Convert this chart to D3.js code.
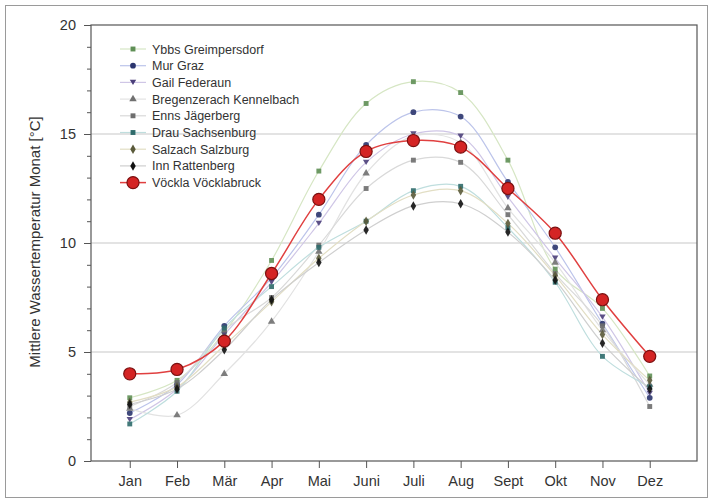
<!DOCTYPE html>
<html><head><meta charset="utf-8">
<script src="https://cdn.jsdelivr.net/npm/d3@7"></script>
<style>body{margin:0;background:#fff;}svg{display:block;font-family:"Liberation Sans",Arial,sans-serif;}</style>
</head><body><svg id="c" width="712" height="503"></svg>
<script>
const months = ["Jan","Feb","Mär","Apr","Mai","Juni","Juli","Aug","Sept","Okt","Nov","Dez"];
const yTicks = [0,5,10,15,20];
const seriesNames = ["Ybbs Greimpersdorf","Mur Graz","Gail Federaun","Bregenzerach Kennelbach","Enns Jägerberg","Drau Sachsenburg","Salzach Salzburg","Inn Rattenberg","Vöckla Vöcklabruck"];
const ybbs    = [2.9,3.7,5.9,9.2,13.3,16.4,17.4,16.9,13.8,8.8,7.0,3.9];
const mur     = [2.2,3.5,6.2,8.4,11.3,14.5,16.0,15.8,12.8,9.8,6.3,2.9];
const gail    = [1.9,3.3,5.8,8.2,10.9,13.7,15.0,14.9,12.1,9.3,6.6,3.1];
const bregenz = [2.4,2.1,4.0,6.4,9.6,13.2,14.9,14.6,11.6,9.1,6.0,3.5];
const enns    = [2.5,3.6,6.0,7.5,9.9,12.5,13.8,13.7,11.3,8.6,6.2,2.5];
const drau    = [1.7,3.2,6.1,8.0,9.8,11.0,12.4,12.6,10.7,8.2,4.8,3.4];
const salzach = [2.7,3.4,5.3,7.3,9.3,11.0,12.2,12.4,10.9,8.5,5.8,3.7];
const inn     = [2.6,3.3,5.1,7.4,9.1,10.6,11.7,11.8,10.5,8.3,5.4,3.3];
const voeckla = [4.0,4.2,5.5,8.6,12.0,14.2,14.7,14.4,12.5,10.45,7.4,4.8];
const allValues = [ybbs,mur,gail,bregenz,enns,drau,salzach,inn,voeckla];

const styles = [
  {line:"#d6e6c4", fill:"#5f8f55", sym:d3.symbolSquare, size:24},
  {line:"#bcc4ea", fill:"#2b356e", sym:d3.symbolCircle, size:26},
  {line:"#cfc6e6", fill:"#4b3f7a", sym:"down", size:26},
  {line:"#e2e2e2", fill:"#707070", sym:d3.symbolTriangle, size:24},
  {line:"#d9d9d9", fill:"#6e6e6e", sym:d3.symbolSquare, size:24},
  {line:"#bfdede", fill:"#2f6b6b", sym:d3.symbolSquare, size:24},
  {line:"#e2dec4", fill:"#5a5a3a", sym:d3.symbolDiamond, size:26},
  {line:"#cfcfcf", fill:"#111111", sym:d3.symbolDiamond, size:26},
  {line:"#e04040", fill:"#d42424", sym:d3.symbolCircle, size:115, stroke:"#7a1010"}
];

const svg = d3.select("#c");
svg.append("rect").attr("x",5.5).attr("y",5.5).attr("width",702).attr("height",492)
  .attr("fill","none").attr("stroke","#9a9a9a").attr("stroke-width",1);

const L=91, R=697, T=25, B=461;
const x = d3.scaleLinear().domain([-0.82,12]).range([L,R]);
const y = d3.scaleLinear().domain([0,20]).range([B,T]);

svg.append("g").selectAll("line").data([5,10,15]).join("line")
  .attr("x1",L).attr("x2",R).attr("y1",d=>y(d)).attr("y2",d=>y(d))
  .attr("stroke","#e3e3e3").attr("stroke-width",2);

svg.append("rect").attr("x",L).attr("y",T).attr("width",R-L).attr("height",B-T)
  .attr("fill","none").attr("stroke","#555").attr("stroke-width",1.2);

const yAxis = d3.axisLeft(y).tickValues(yTicks).tickSize(7).tickPadding(8);
const gy = svg.append("g").attr("transform",`translate(${L},0)`).call(yAxis);
gy.select(".domain").remove();
gy.selectAll("text").attr("font-size",14.5).attr("fill","#333").attr("font-family","Liberation Sans, Arial");
gy.selectAll("line").attr("stroke","#555");
const yMinor = d3.axisLeft(y).tickValues(d3.range(0,21).filter(v=>v%5!==0)).tickSize(4).tickFormat("");
const gym = svg.append("g").attr("transform",`translate(${L},0)`).call(yMinor);
gym.select(".domain").remove(); gym.selectAll("line").attr("stroke","#555");

const xAxis = d3.axisBottom(x).tickValues(d3.range(12)).tickFormat(i=>months[i]).tickSize(7).tickPadding(8);
const gx = svg.append("g").attr("transform",`translate(0,${B})`).call(xAxis);
gx.select(".domain").remove();
gx.selectAll("text").attr("font-size",14.5).attr("fill","#333").attr("font-family","Liberation Sans, Arial");
gx.selectAll("line").attr("stroke","#555");

svg.append("text").attr("transform",`translate(40,242) rotate(-90)`)
  .attr("text-anchor","middle").attr("font-size",15).attr("fill","#333")
  .text("Mittlere Wassertemperatur Monat [°C]");

function symPath(st){
  if(st.sym==="down") return "M-3.2,-2.7L3.2,-2.7L0,2.7Z";
  return d3.symbol().type(st.sym).size(st.size)();
}

const line = d3.line().x((d,i)=>x(i)).y(d=>y(d)).curve(d3.curveCatmullRom.alpha(0.5));

allValues.forEach((vals,k)=>{
  const st=styles[k];
  svg.append("path").datum(vals).attr("d",line).attr("fill","none")
    .attr("stroke",st.line).attr("stroke-width",k===8?1.5:1.2);
});
allValues.forEach((vals,k)=>{
  const st=styles[k];
  svg.append("g").selectAll("path").data(vals).join("path")
    .attr("transform",(d,i)=>`translate(${x(i)},${y(d)})`)
    .attr("d",symPath(st)).attr("fill",st.fill)
    .attr("stroke",st.stroke||"none").attr("stroke-width",1.2).attr("opacity",k===8?1:0.9);
});

const lg = svg.append("g");
seriesNames.forEach((name,k)=>{
  const st=styles[k];
  const yy = 49 + k*16.7;
  lg.append("line").attr("x1",120).attr("x2",146).attr("y1",yy).attr("y2",yy)
    .attr("stroke",st.line).attr("stroke-width",k===8?1.5:1.2);
  lg.append("path").attr("transform",`translate(133,${yy})`).attr("d",symPath(st))
    .attr("fill",st.fill).attr("stroke",st.stroke||"none").attr("stroke-width",1.2);
  lg.append("text").attr("x",152).attr("y",yy+4.5).attr("font-size",12.5).attr("fill","#333").text(name);
});
</script></body></html>
